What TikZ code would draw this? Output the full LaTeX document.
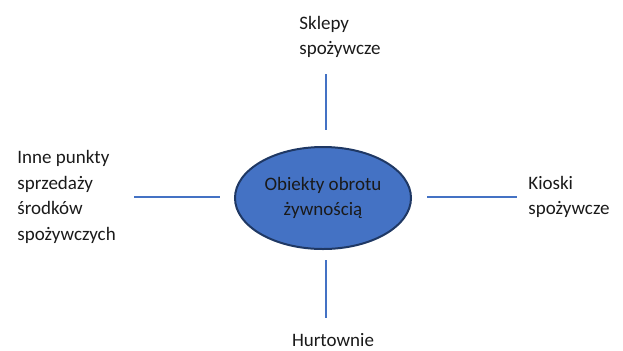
\documentclass[tikz,border=0pt]{standalone}
\usepackage{fontspec}
\setmainfont{Carlito}
\usetikzlibrary{shapes.geometric}
\definecolor{fillblue}{HTML}{4472C4}
\definecolor{rimblue}{HTML}{1F3864}
\definecolor{lineblue}{HTML}{4472C4}
\definecolor{inktext}{HTML}{1A1A1A}

\begin{document}
\begin{tikzpicture}[x=0.5pt,y=-0.5pt,
	txt/.style={inner sep=0pt,align=left,text=inktext,font=\fontsize{9.5}{12.75}\selectfont},
	link/.style={draw=lineblue,line width=0.55pt}]
	\useasboundingbox (0,0) rectangle (623,350);
	\node[ellipse,draw=rimblue,line width=1pt,fill=fillblue,minimum width=88pt,minimum height=51pt,
		inner sep=0pt,align=center,text=inktext,font=\fontsize{9.5}{12.75}\selectfont] (obiekty) at (323,198) {Obiekty obrotu\\żywnością};
	\node[txt,anchor=west] (sklepy) at (299,37) {Sklepy\\spożywcze};
	\node[txt,anchor=west] (inne) at (17,197) {Inne punkty\\sprzedaży\\środków\\spożywczych};
	\node[txt,anchor=west] (kioski) at (528,197) {Kioski\\spożywcze};
	\node[txt,anchor=center] (hurt) at (333,340) {Hurtownie};
	\coordinate (t1) at (326,74);
	\coordinate (t2) at (326,130);
	\coordinate (l1) at (134,197);
	\coordinate (l2) at (220,197);
	\coordinate (r1) at (427,197);
	\coordinate (r2) at (517,197);
	\coordinate (b1) at (326,260);
	\coordinate (b2) at (326,318);
	\draw[link] (t1) -- (t2);
	\draw[link] (l1) -- (l2);
	\draw[link] (r1) -- (r2);
	\draw[link] (b1) -- (b2);
\end{tikzpicture}
\end{document}
